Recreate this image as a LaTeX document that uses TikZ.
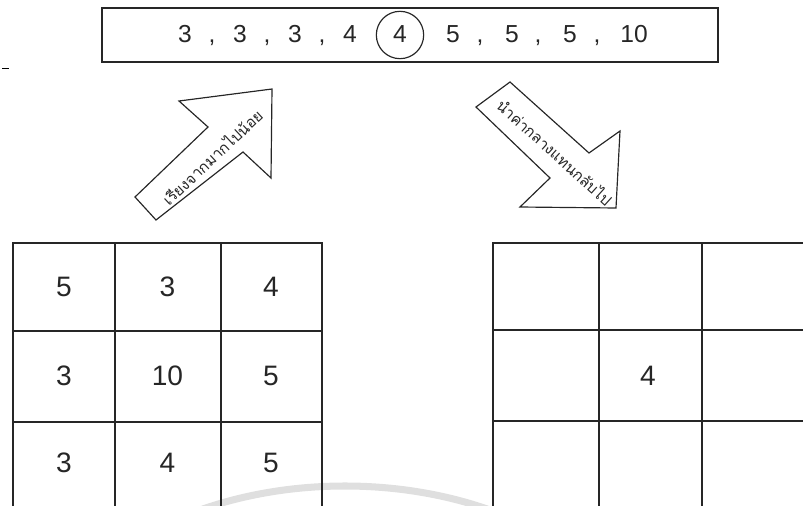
\documentclass[tikz,border=0pt]{standalone}
\usepackage{fontspec}
\setmainfont{Liberation Sans}
\newfontfamily\thaifont[Script=Thai]{Loma}
\usetikzlibrary{calc}

\begin{document}
\begin{tikzpicture}[x=0.03cm,y=-0.03cm,line width=1pt,
  every node/.style={inner sep=0pt,text=black!85},
  seq/.style={font=\fontsize{21}{21}\selectfont,anchor=base},
  cell/.style={font=\fontsize{24}{24}\selectfont},
  note/.style={font=\thaifont\fontsize{13}{13}\selectfont}]
\useasboundingbox (0,0) rectangle (803,506);
% faint watermark arc
\draw[gray!25,line width=6pt] (200,510) .. controls (290,478) and (400,478) .. (490,510);
\draw[line width=0.8pt] (2,68) -- (9,68);
% sorted sequence
\node[draw=black!85,minimum width=18.48cm,minimum height=1.62cm] (seqbox) at (410,35) {};
\foreach \x/\t [count=\i] in {185/3,240/3,295/3,350/4,453/5,512/5,570/5,634/10}
  \node[seq] (n\i) at (\x,43) {\t};
\foreach \x [count=\i] in {212,267,322,480,538,597}
  \node[seq] (c\i) at (\x,43) {,};
\node[seq] (mid) at (400,43) {4};
\node[draw=black!85,circle,minimum size=1.42cm] (ring) at (400,35) {};
% arrows
\draw[black!85] (135,197) -- (208,127) -- (179,101) -- (272,89) -- (271,178)
  -- (243,152) -- (156,220) -- cycle;
\node[note,rotate=43] (sortlbl) at (212,157) {เรียงจากมากไปน้อย};
\draw[black!85] (510,82) -- (589,153) -- (620,131) -- (616,208) -- (520,207)
  -- (550,178) -- (476,107) -- cycle;
\node[note,rotate=-42] (backlbl) at (555,152) {นำค่ากลางแทนกลับไป};
% input window
\draw[black!85] (13,506) -- (13,243) -- (322,243) -- (322,506);
\foreach \y in {331,422} \draw[black!85] (13,\y) -- (322,\y);
\foreach \x in {115,221} \draw[black!85] (\x,243) -- (\x,506);
\foreach \v [count=\i from 0] in {5,3,4,3,10,5,3,4,5} {
  \pgfmathtruncatemacro\col{mod(\i,3)}
  \pgfmathtruncatemacro\row{int(\i/3)}
  \pgfmathsetmacro\yy{{287,376,463}[\row]}
  \node[cell] (in\i) at (64+\col*103.5,\yy) {\v};
}
% output window
\draw[black!85] (493,506) -- (493,243) -- (803,243);
\foreach \y in {330,421} \draw[black!85] (493,\y) -- (803,\y);
\foreach \x in {599,702} \draw[black!85] (\x,243) -- (\x,506);
\node[cell] (out) at (648,376) {4};
\end{tikzpicture}
\end{document}
